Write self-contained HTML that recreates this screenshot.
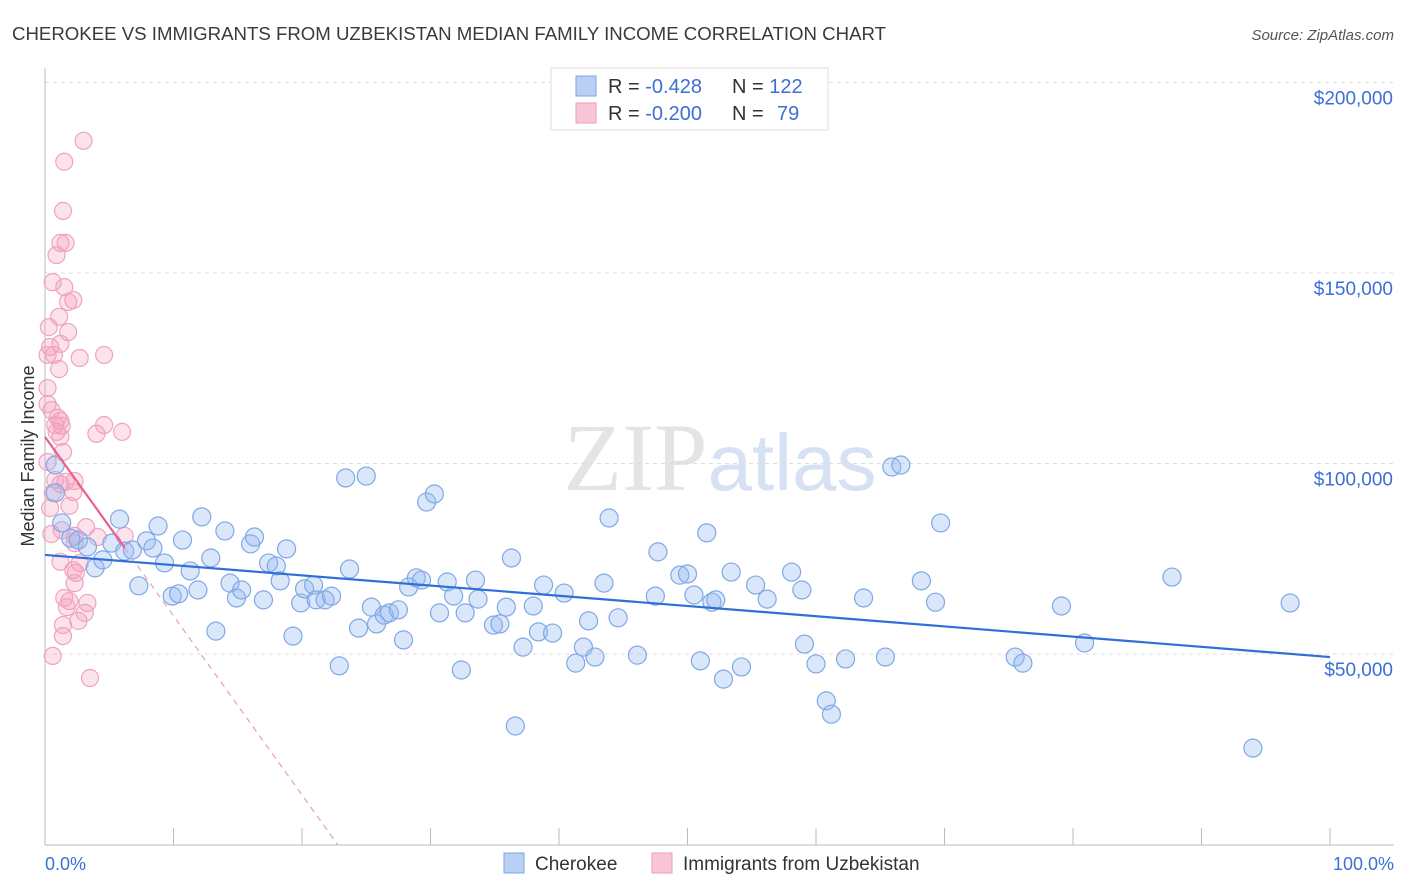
<!DOCTYPE html>
<html><head><meta charset="utf-8"><style>
body{margin:0;background:#fff;font-family:"Liberation Sans",sans-serif}
svg{display:block}
</style></head><body>
<svg id="c" width="1406" height="892">
<text x="12" y="40" font-size="18" fill="#3a3a3a" textLength="874" lengthAdjust="spacingAndGlyphs">CHEROKEE VS IMMIGRANTS FROM UZBEKISTAN MEDIAN FAMILY INCOME CORRELATION CHART</text>
<text x="1394" y="40" font-size="15" fill="#555" font-style="italic" text-anchor="end">Source: ZipAtlas.com</text>
<text x="720" y="490" font-size="96" fill="#e4e4e4" text-anchor="middle" font-family="Liberation Serif,serif">ZIP<tspan fill="#d6e2f3" font-family="Liberation Sans,sans-serif" font-size="80">atlas</tspan></text>
<text transform="translate(34,456) rotate(-90)" font-size="18" fill="#333" text-anchor="middle">Median Family Income</text>
<g id="grid"></g><g id="pts"></g><g id="trend"></g>
<g>
<rect x="551" y="68" width="277" height="62" fill="#fff" stroke="#ddd"/>
<rect x="576" y="76" width="20" height="20" fill="#b9d0f3" stroke="#7aa5e8"/>
<rect x="576" y="103" width="20" height="20" fill="#f8c6d6" stroke="#ee9ab7"/>
<text x="608" y="93" font-size="20" fill="#333">R = <tspan fill="#3b6fd6">-0.428</tspan><tspan x="732">N = </tspan><tspan fill="#3b6fd6">122</tspan></text>
<text x="608" y="120" font-size="20" fill="#333">R = <tspan fill="#3b6fd6">-0.200</tspan><tspan x="732">N = </tspan><tspan x="777" fill="#3b6fd6">79</tspan></text>
</g>
<text x="45" y="870" font-size="18" fill="#3b6fd6">0.0%</text>
<text x="1394" y="870" font-size="18" fill="#3b6fd6" text-anchor="end">100.0%</text>
<rect x="504" y="853" width="20" height="20" fill="#b9d0f3" stroke="#7aa5e8"/>
<text x="535" y="870" font-size="19" fill="#333">Cherokee</text>
<rect x="652" y="853" width="20" height="20" fill="#f8c6d6" stroke="#ee9ab7"/>
<text x="683" y="870" font-size="19" fill="#333">Immigrants from Uzbekistan</text>
</svg>
<script>
const yTicks=[50,100,150,200];
const yTickLabels=["$50,000","$100,000","$150,000","$200,000"];
const xTicks=[0,10,20,30,40,50,60,70,80,90,100];
const blueX=[0.8,0.8,1.3,2.0,2.6,3.3,3.9,4.5,5.2,5.8,6.2,6.8,7.3,7.9,8.4,8.8,9.3,9.9,10.4,10.7,11.3,11.9,12.2,12.9,13.3,14.0,14.4,14.9,15.3,16.0,16.3,17.0,17.4,18.0,18.3,18.8,19.3,19.9,20.2,20.9,21.1,21.8,22.3,22.9,23.4,23.7,24.4,25.0,25.4,25.8,26.4,26.8,27.5,27.9,28.3,28.9,29.3,29.7,30.3,30.7,31.3,31.8,32.4,32.7,33.5,33.7,34.9,35.4,35.9,36.3,36.6,37.2,38.0,38.4,38.8,39.5,40.4,41.3,41.9,42.3,42.8,43.5,43.9,44.6,46.1,47.5,47.7,49.4,50.0,50.5,51.0,51.5,51.9,52.2,52.8,53.4,54.2,55.3,56.2,58.1,58.9,59.1,60.0,60.8,61.2,62.3,63.7,65.4,65.9,66.6,68.2,69.3,69.7,75.5,76.1,79.1,80.9,87.7,94.0,96.9];
const blueY=[99.6,92.3,84.4,80.4,79.9,78.1,72.6,74.7,79.1,85.4,77.0,77.3,67.9,79.7,77.8,83.6,73.9,65.2,65.8,79.9,71.8,66.8,86.0,75.2,56.0,82.3,68.6,64.7,66.8,78.9,80.7,64.2,73.9,73.1,69.2,77.6,54.7,63.4,67.1,68.1,64.2,64.2,65.2,46.9,96.2,72.3,56.8,96.7,62.3,57.9,60.2,60.8,61.6,53.7,67.6,70.0,69.4,89.9,92.0,60.8,68.9,65.2,45.8,60.8,69.4,64.4,57.6,57.9,62.3,75.2,31.1,51.8,62.6,55.8,68.1,55.5,66.0,47.6,51.8,58.7,49.2,68.6,85.7,59.5,49.7,65.2,76.8,70.7,71.0,65.5,48.2,81.8,63.6,64.2,43.4,71.5,46.6,68.1,64.4,71.5,66.8,52.6,47.4,37.7,34.2,48.7,64.7,49.2,99.1,99.6,69.2,63.6,84.4,49.2,47.6,62.6,52.9,70.2,25.3,63.4];
const pinkX=[3.0,1.5,1.4,1.2,1.6,0.9,0.6,1.5,2.2,1.8,1.1,0.3,1.8,0.4,1.2,0.2,0.7,2.7,4.6,1.1,0.2,0.2,0.5,1.0,1.2,0.8,1.3,4.6,6.0,4.0,0.9,1.2,1.4,0.2,0.8,1.6,2.3,1.2,0.6,2.2,1.9,0.4,3.2,1.3,0.5,2.3,6.2,4.1,2.3,1.2,2.7,2.2,2.4,2.3,1.5,1.9,3.3,1.7,3.1,2.6,1.4,1.4,0.6,3.5];
const pinkY=[184.7,179.2,166.3,157.9,157.9,154.7,147.6,146.3,142.9,142.4,138.5,135.8,134.5,130.6,131.4,128.5,128.5,127.7,128.5,124.8,119.8,115.6,114.0,112.0,111.2,110.1,109.9,110.1,108.3,107.8,108.3,107.0,103.0,100.4,95.7,95.2,95.4,94.6,92.3,92.5,88.9,88.3,83.3,82.5,81.5,81.0,81.0,80.7,79.1,74.2,73.9,72.0,71.3,68.6,64.7,63.9,63.4,62.3,60.8,58.7,57.6,54.7,49.5,43.7];
const blueTrend=[76.0,-0.268];
const pinkTrend=[107,-4.7];
const NS="http://www.w3.org/2000/svg";
const X=v=>45+v*12.85, Y=v=>844.5-v*3.81;
function mk(tag,attrs,parent){const e=document.createElementNS(NS,tag);for(const k in attrs)e.setAttribute(k,attrs[k]);parent.appendChild(e);return e;}
const grid=document.getElementById('grid');
yTicks.forEach((t,i)=>{
 const l=mk('line',{x1:45,x2:1394,y1:Y(t),y2:Y(t),stroke:'#ddd','stroke-dasharray':'4,4'},grid);
 
 
 const tx=mk('text',{x:1393,y:Y(t)+22,'font-size':19,fill:'#3b6fd6','text-anchor':'end'},grid);
 tx.textContent=yTickLabels[i];
 
 
});
const ax=mk('line',{x1:45,x2:45,y1:68,y2:845,stroke:'#bbb'},grid);


const bx=mk('line',{x1:45,x2:1394,y1:845,y2:845,stroke:'#bbb'},grid);


xTicks.forEach(t=>{
 const l=mk('line',{x1:X(t),x2:X(t),y1:828,y2:845,stroke:'#bbb'},grid);
 
 
});
const pts=document.getElementById('pts');
pinkX.forEach((x,i)=>{
 const c=mk('circle',{cx:X(x),cy:Y(pinkY[i]),r:8.5,fill:'rgba(244,160,190,0.3)',stroke:'#f0a3bf','stroke-width':1.2},pts);
 
 
});
blueX.forEach((x,i)=>{
 const c=mk('circle',{cx:X(x),cy:Y(blueY[i]),r:9,fill:'rgba(150,185,240,0.35)',stroke:'#7fa8e6','stroke-width':1.2},pts);
 
 
});
const tr=document.getElementById('trend');
const bt=mk('line',{x1:X(0),y1:Y(blueTrend[0]),x2:X(100),y2:Y(blueTrend[0]+100*blueTrend[1]),stroke:'#2f6fd8','stroke-width':2.2},tr);


const pEnd=6.2, pZero=-pinkTrend[0]/pinkTrend[1];
const ps=mk('line',{x1:X(0),y1:Y(pinkTrend[0]),x2:X(pEnd),y2:Y(pinkTrend[0]+pEnd*pinkTrend[1]),stroke:'#e8608d','stroke-width':2.2},tr);


const pd=mk('line',{x1:X(pEnd),y1:Y(pinkTrend[0]+pEnd*pinkTrend[1]),x2:X(pZero),y2:Y(0),stroke:'#e8a0b8','stroke-width':1.2,'stroke-dasharray':'6,5'},tr);


</script>
</body></html>
